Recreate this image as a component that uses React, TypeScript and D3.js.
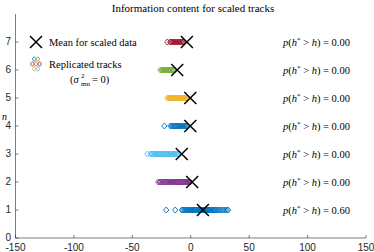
import React from 'react';
import * as d3 from 'd3';

// mean of the scaled data for each n
const rows = [1, 2, 3, 4, 5, 6, 7];
const means = [10.4, 1.2, -7.7, -0.4, -0.4, -11.6, -3.3];
const pValues = ['0.60', '0.00', '0.00', '0.00', '0.00', '0.00', '0.00'];
const rowColors = ['#0072BD', '#7E2F8E', '#4DBEEE', '#0072BD', '#EDB120', '#77AC30', '#A2142F'];

// replicated tracks (one list per n)
const track1 = [-21, -13.3, -7.6, -6.6, -5.5, -4.7, -3.7, -2.9, -2.1, -1.2, -0.4, 0.4, 1.1, 1.9, 2.6, 3.4, 4.1, 4.9, 5.6, 6.4, 7.2,
  7.9, 8.7, 9.4, 10.2, 10.9, 11.7, 12.4, 13.2, 14, 14.8, 15.5, 16.3, 17.1, 18, 18.8, 19.7, 20.6, 21.6, 22.7, 23.9, 25.1, 26.5, 27.9, 29.4, 30.8, 32];
const track2 = [-27.8, -26.6, -25.4, -24.3, -23.2, -22.1, -21.1, -20.1, -19.1, -18.2, -17.3, -16.4, -15.5, -14.6, -13.7, -12.8, -11.9,
  -11, -10.1, -9.2, -8.3, -7.4, -6.5, -5.6, -4.7, -3.8, -2.9, -2, -1.1, -0.4];
const track3 = [-37.2, -34.6, -33.4, -32.3, -31.2, -30.2, -29.2, -28.2, -27.3, -26.4, -25.5, -24.6, -23.7, -22.8, -21.9, -21, -20.1,
  -19.2, -18.3, -17.4, -16.5, -15.6, -14.7, -13.8, -12.9, -12, -11.2, -10.5];
const track4 = [-22.6, -17.5, -16.4, -15.4, -14.4, -13.4, -12.5, -11.6, -10.7, -9.8, -8.9, -8, -7.1, -6.2, -5.3, -4.4, -3.6, -3];
const track5 = [-20, -19, -18, -17.1, -16.2, -15.3, -14.4, -13.5, -12.6, -11.7, -10.8, -9.9, -9, -8.1, -7.2, -6.3, -5.4, -4.5, -3.7, -3];
const track6 = [-26, -25, -24.1, -23.2, -22.3, -21.4, -20.5, -19.6, -18.7, -17.8, -16.9, -16, -15.2, -14.6];
const track7 = [-20.1, -17.6, -16.7, -15.8, -14.9, -14, -13.1, -12.2, -11.3, -10.4, -9.5, -8.6, -7.7, -6.9, -6.2];
const tracks = [track1, track2, track3, track4, track5, track6, track7];

const xTicks = [-150, -100, -50, 0, 50, 100, 150];
const yTicks = [0, 1, 2, 3, 4, 5, 6, 7];
const legendColors = ['#0072BD', '#77AC30', '#7E2F8E', '#D95319', '#A2142F', '#EDB120', '#4DBEEE'];

const W = 374;
const H = 252;
const axisColor = '#262626';
const serif = '"Liberation Serif", "DejaVu Serif", serif';
const sans = '"Liberation Sans", Arial, sans-serif';

const x = d3.scaleLinear().domain([-150, 150]).range([15.5, 366]);
const y = d3.scaleLinear().domain([0, 8]).range([238, 14]);

function diamond(cx: number, cy: number, r = 2.6) {
  return `M${cx},${cy - r - 0.4}L${cx + r},${cy}L${cx},${cy + r + 0.4}L${cx - r},${cy}Z`;
}

function Cross({ cx, cy }: { cx: number; cy: number }) {
  const s = 6;
  return (
    <path
      d={`M${cx - s},${cy - s}L${cx + s},${cy + s}M${cx - s},${cy + s}L${cx + s},${cy - s}`}
      stroke="#000"
      strokeWidth={1.5}
      fill="none"
    />
  );
}

function PText({ px, py, val }: { px: number; py: number; val: string }) {
  return (
    <text x={px} y={py} fontFamily={serif} fontSize={10.5} fill="#000">
      <tspan fontStyle="italic">p</tspan>
      <tspan>(</tspan>
      <tspan fontStyle="italic">h</tspan>
      <tspan fontSize={7} dy={-4}>*</tspan>
      <tspan dy={4}>{' > '}</tspan>
      <tspan fontStyle="italic">h</tspan>
      <tspan>{') = ' + val}</tspan>
    </text>
  );
}

export default function App() {
  const legendPts = [
    [-1.8, -5], [1.8, -5],
    [-3.6, 0], [0, 0], [3.6, 0],
    [-1.8, 5], [1.8, 5],
  ];
  return (
    <svg width={W} height={H} style={{ position: 'absolute', left: 0, top: 0, background: '#fff' }}>
      <text x={193} y={12} textAnchor="middle" fontFamily={serif} fontSize={11}>
        Information content for scaled tracks
      </text>

      {/* axes */}
      <line x1={x(-150)} x2={x(-150)} y1={y(8)} y2={y(0)} stroke={axisColor} strokeWidth={0.6} />
      <line x1={x(-150)} x2={x(150)} y1={y(0)} y2={y(0)} stroke={axisColor} strokeWidth={0.6} />
      {yTicks.map((t) => (
        <g key={'y' + t}>
          <line x1={x(-150)} x2={x(-150) + 3} y1={y(t)} y2={y(t)} stroke={axisColor} strokeWidth={0.6} />
          <text x={x(-150) - 4.5} y={y(t) + 3} textAnchor="end" fontFamily={sans} fontSize={10} fill={axisColor}>
            {t}
          </text>
        </g>
      ))}
      {xTicks.map((t) => (
        <g key={'x' + t}>
          <line x1={x(t)} x2={x(t)} y1={y(0)} y2={y(0) - 3} stroke={axisColor} strokeWidth={0.6} />
          <text x={x(t)} y={y(0) + 12.5} textAnchor="middle" fontFamily={sans} fontSize={10} fill={axisColor}>
            {t}
          </text>
        </g>
      ))}
      <text x={2} y={120} fontFamily={serif} fontStyle="italic" fontSize={10}>n</text>

      {/* replicated tracks */}
      {tracks.map((vals, i) => (
        <g key={'t' + i}>
          {vals.map((v, j) => (
            <path key={j} d={diamond(x(v), y(rows[i]))} fill="none" stroke={rowColors[i]} strokeWidth={0.9} />
          ))}
        </g>
      ))}

      {/* means */}
      {means.map((m, i) => (
        <Cross key={'m' + i} cx={x(m)} cy={y(rows[i])} />
      ))}

      {/* p values */}
      {pValues.map((p, i) => (
        <PText key={'p' + i} px={283} py={y(rows[i]) + 3.5} val={p} />
      ))}

      {/* legend */}
      <Cross cx={36} cy={42} />
      <text x={49} y={45.5} fontFamily={serif} fontSize={10.5}>Mean for scaled data</text>
      {legendPts.map(([dx, dy], k) => (
        <path key={'l' + k} d={diamond(36 + dx, 64 + dy, 2)} fill="none" stroke={legendColors[k]} strokeWidth={0.8} />
      ))}
      <text x={49} y={67.5} fontFamily={serif} fontSize={10.5}>Replicated tracks</text>
      <text x={70} y={83} fontFamily={serif} fontSize={10.5}>
        <tspan>(</tspan>
        <tspan fontStyle="italic">σ</tspan>
      </text>
      <text x={81} y={78} fontFamily={serif} fontSize={7}>2</text>
      <text x={81} y={86} fontFamily={serif} fontSize={7}>mn</text>
      <text x={92} y={83} fontFamily={serif} fontSize={10.5}>= 0)</text>
    </svg>
  );
}
